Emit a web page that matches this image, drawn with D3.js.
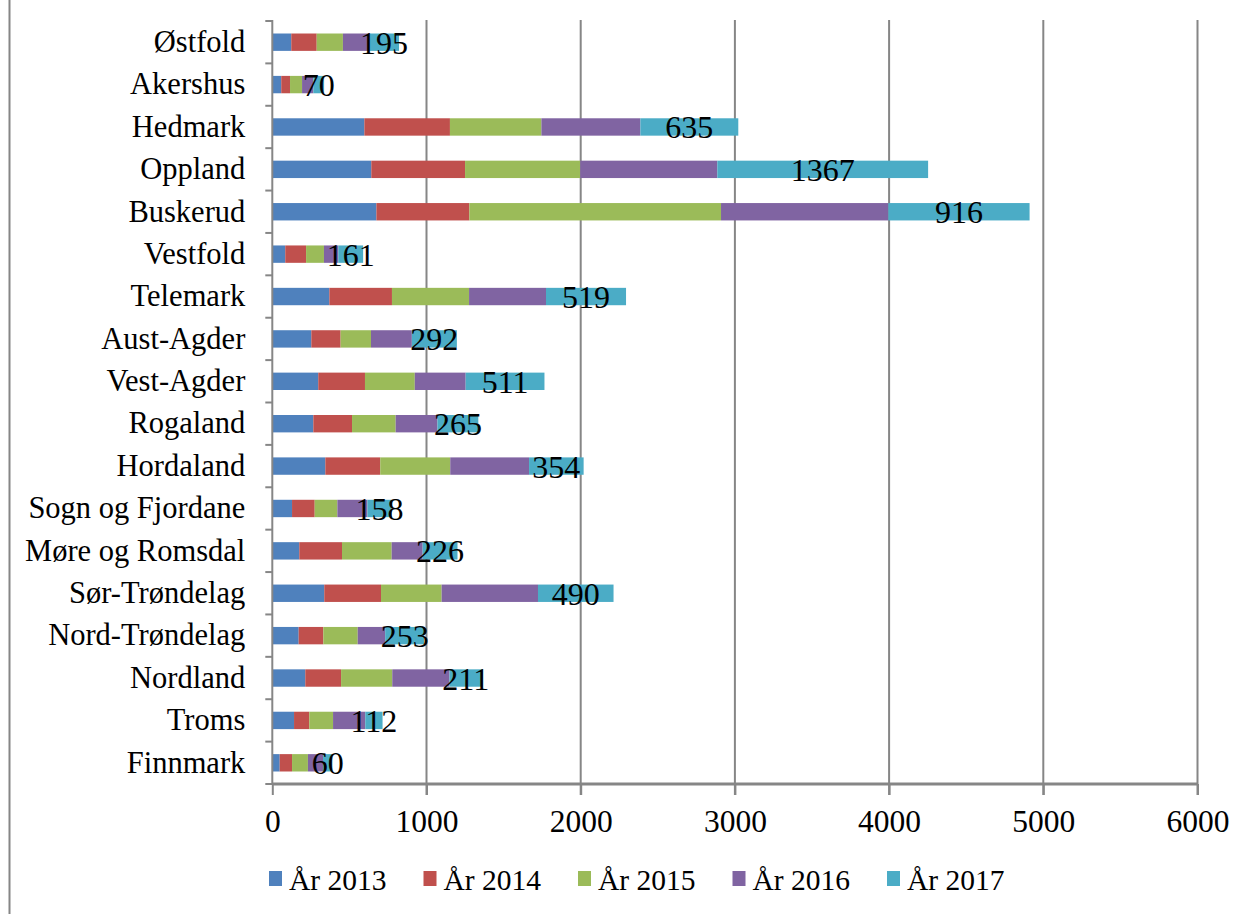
<!DOCTYPE html>
<html><head><meta charset="utf-8">
<script src="https://cdn.jsdelivr.net/npm/d3@7"></script>
<style>body{margin:0;background:#fff}svg{display:block}</style>
</head><body>
<script>
const categories = ["Østfold","Akershus","Hedmark","Oppland","Buskerud","Vestfold","Telemark","Aust-Agder","Vest-Agder","Rogaland","Hordaland","Sogn og Fjordane","Møre og Romsdal","Sør-Trøndelag","Nord-Trøndelag","Nordland","Troms","Finnmark"];
const seriesNames = ["År 2013","År 2014","År 2015","År 2016","År 2017"];
const y2013 = [123,58,597,642,675,84,370,253,298,266,344,128,175,337,171,214,141,48];
const y2014 = [165,57,555,608,603,135,406,190,303,251,356,147,277,368,160,232,99,80];
const y2015 = [170,78,593,747,1632,116,500,197,323,283,454,147,322,393,223,332,154,103];
const y2016 = [169,73,642,889,1085,93,499,265,330,271,511,195,201,625,178,371,209,98];
const y2017 = [195,70,635,1367,916,161,519,292,511,265,354,158,226,490,253,211,112,60];
const xTicks = [0,1000,2000,3000,4000,5000,6000];
const colors = ["#4F81BD","#C0504D","#9BBB59","#8064A2","#4BACC6"];

const W = 1247, H = 914;
const svg = d3.select("body").append("svg").attr("width", W).attr("height", H);
const font = "'Liberation Serif', serif";

const x = d3.scaleLinear().domain([0, 6000]).range([272.3, 1197.5]);
const y = d3.scaleBand().domain(categories).range([21, 784]).paddingInner(0.59).paddingOuter(0.295);

// left frame line
svg.append("line").attr("x1", 9.5).attr("x2", 9.5).attr("y1", 0).attr("y2", H).attr("stroke", "#868686").attr("stroke-width", 2);

// gridlines
svg.append("g").selectAll("line").data(xTicks.slice(1)).join("line")
  .attr("x1", d => x(d)).attr("x2", d => x(d)).attr("y1", 20).attr("y2", 795)
  .attr("stroke", "#868686").attr("stroke-width", 2);

const rows = categories.map((c, i) => ({cat: c, v: [y2013[i], y2014[i], y2015[i], y2016[i], y2017[i]]}));
const stack = d3.stack().keys([0,1,2,3,4]).value((d, k) => d.v[k]);
const stacked = stack(rows);

svg.append("g").selectAll("g").data(stacked).join("g").attr("fill", (d, i) => colors[i])
  .selectAll("rect").data(d => d).join("rect")
  .attr("x", d => x(d[0])).attr("width", d => x(d[1]) - x(d[0]))
  .attr("y", d => y(d.data.cat)).attr("height", y.bandwidth());

// axes
const yAxis = d3.axisLeft(y).tickSize(0).tickPadding(27);
const gy = svg.append("g").attr("transform", `translate(${x(0)},0)`).call(yAxis);
gy.select(".domain").attr("stroke", "#868686").attr("stroke-width", 2).attr("d", "M0,20V784");
gy.selectAll("text").attr("font-family", font).attr("font-size", 30.5).attr("fill", "#000");
// category boundary ticks
const step = y.step();
svg.append("g").selectAll("line").data(d3.range(categories.length + 1)).join("line")
  .attr("x1", x(0) - 7).attr("x2", x(0))
  .attr("y1", i => 21 + i * step).attr("y2", i => 21 + i * step)
  .attr("stroke", "#868686").attr("stroke-width", 2);

const xAxis = d3.axisBottom(x).tickValues(xTicks).tickSize(11).tickPadding(15).tickFormat(d3.format("d"));
const gx = svg.append("g").attr("transform", "translate(0,784)").call(xAxis);
gx.select(".domain").attr("stroke", "#868686").attr("stroke-width", 3).attr("d", `M${x(0)},0H${x(6000)}`);
gx.selectAll(".tick line").attr("stroke", "#868686").attr("stroke-width", 2);
gx.selectAll("text").attr("font-family", font).attr("font-size", 31.5).attr("fill", "#000");

// data labels on last segment
svg.append("g").selectAll("text").data(stacked[4]).join("text")
  .attr("x", d => (x(d[0]) + x(d[1])) / 2)
  .attr("y", d => y(d.data.cat) + y.bandwidth() / 2)
  .attr("dy", "0.36em").attr("text-anchor", "middle")
  .attr("font-family", font).attr("font-size", 32).attr("fill", "#000")
  .text(d => d.data.v[4]);

// legend
const lg = svg.append("g").selectAll("g").data(seriesNames).join("g")
  .attr("transform", (d, i) => `translate(${269 + i * 154.5},871)`);
lg.append("rect").attr("width", 13).attr("height", 15).attr("fill", (d, i) => colors[i]);
lg.append("text").attr("x", 20).attr("y", 8).attr("dy", "0.36em")
  .attr("font-family", font).attr("font-size", 29.5).attr("fill", "#000").text(d => d);
</script>
</body></html>
